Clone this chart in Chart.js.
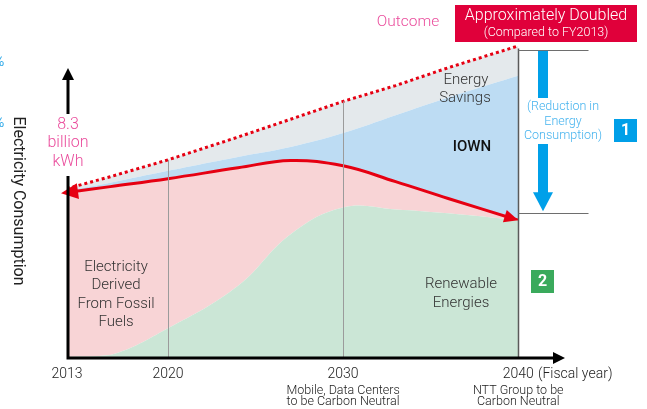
<!DOCTYPE html>
<html>
<head>
<meta charset="utf-8">
<script src="https://cdn.jsdelivr.net/npm/chart.js@4.4.1/dist/chart.umd.min.js"></script>
<style>
  html, body { margin: 0; padding: 0; background: #fff; }
  canvas { display: block; }
</style>
</head>
<body>
<canvas id="chart" width="647" height="409"></canvas>
<script>
// Fiscal years sampled along the curves
const years = [2013, 2016, 2020, 2024, 2027, 2030, 2033, 2036, 2040];

// Electricity consumption in billion kWh
const renewable = [0, 0.1, 1.45, 3.6, 6.2, 7.55, 7.45, 7.25, 6.9];
const actual    = [8.3, 8.6, 9.0, 9.55, 9.92, 9.65, 8.85, 8.0, 6.9];
const withIown  = [8.4, 8.8, 9.4, 10.1, 10.6, 11.3, 12.2, 13.1, 14.2];
const baseline  = [8.5, 9.1, 9.95, 11.1, 12.0, 12.9, 13.7, 14.6, 15.7];

// Axis ticks and the notes under them
const tickYears = [2013, 2020, 2030, 2040];
const tickNotes = [[], [], ['Mobile, Data Centers', 'to be Carbon Neutral'], ['NTT Group to be', 'Carbon Neutral']];

// Range of the reduction bracket at FY2040
const bracket = [15.5, 7.25];

// The year axis is not uniform: 2013-2020 is squeezed
const xBreaks = [2013, 2020, 2042.5];
const xFrac = [0, 0.204, 1];

function yearToDecimal(v) {
  for (let i = 1; i < xBreaks.length; i++) {
    if (v <= xBreaks[i] || i === xBreaks.length - 1) {
      const t = (v - xBreaks[i - 1]) / (xBreaks[i] - xBreaks[i - 1]);
      return xFrac[i - 1] + t * (xFrac[i] - xFrac[i - 1]);
    }
  }
}

function decimalToYear(d) {
  for (let i = 1; i < xFrac.length; i++) {
    if (d <= xFrac[i] || i === xFrac.length - 1) {
      const t = (d - xFrac[i - 1]) / (xFrac[i] - xFrac[i - 1]);
      return xBreaks[i - 1] + t * (xBreaks[i] - xBreaks[i - 1]);
    }
  }
}

class FiscalScale extends Chart.LinearScale {
  getPixelForValue(value) {
    if (value === null || value === undefined) return NaN;
    return this.getPixelForDecimal(yearToDecimal(value));
  }
  getValueForPixel(pixel) {
    return decimalToYear(this.getDecimalForPixel(pixel));
  }
}
FiscalScale.id = 'fiscal';
FiscalScale.defaults = Chart.LinearScale.defaults;
Chart.register(FiscalScale);

const pts = arr => years.map((yr, i) => ({ x: yr, y: arr[i] }));

const FONT = 'Roboto, "Noto Sans", sans-serif';

function label(ctx, str, x, y, size, color, weight, align) {
  ctx.font = (weight || 300) + ' ' + size + 'px ' + FONT;
  ctx.fillStyle = color;
  ctx.textAlign = align || 'center';
  ctx.textBaseline = 'middle';
  ctx.fillText(str, x, y);
}

function arrowHead(ctx, tx, ty, angle, len, half, color) {
  ctx.save();
  ctx.translate(tx, ty);
  ctx.rotate(angle);
  ctx.beginPath();
  ctx.moveTo(0, 0);
  ctx.lineTo(-len, -half);
  ctx.lineTo(-len, half);
  ctx.closePath();
  ctx.fillStyle = color;
  ctx.fill();
  ctx.restore();
}

const overlay = {
  id: 'overlay',
  afterDatasetsDraw(chart) {
    const ctx = chart.ctx;
    const a = chart.chartArea;
    const ys = chart.scales.y;
    const xs = chart.scales.x;
    const top = chart.getDatasetMeta(3).data;

    ctx.save();
    // thin guides at 2020 and 2030 up to the dotted line
    ctx.strokeStyle = '#9b9b9b';
    ctx.lineWidth = 1;
    [2020, 2030].forEach(yr => {
      const p = top[years.indexOf(yr)];
      const px = Math.round(p.x) + 0.5;
      ctx.beginPath();
      ctx.moveTo(px, a.bottom);
      ctx.lineTo(px, p.y);
      ctx.stroke();
    });

    // 2040 line and the bracket
    const x40 = Math.round(xs.getPixelForValue(2040)) + 0.5;
    const bTop = Math.round(ys.getPixelForValue(bracket[0])) + 0.5;
    const bBot = Math.round(ys.getPixelForValue(bracket[1])) + 0.5;
    ctx.strokeStyle = '#5a5a5a';
    ctx.lineWidth = 1.5;
    ctx.beginPath();
    ctx.moveTo(x40, a.bottom);
    ctx.lineTo(x40, bTop - 2);
    ctx.stroke();
    ctx.strokeStyle = '#6e6e6e';
    ctx.lineWidth = 1.2;
    ctx.beginPath();
    ctx.moveTo(x40, bTop); ctx.lineTo(x40 + 70, bTop);
    ctx.moveTo(x40, bBot); ctx.lineTo(x40 + 70, bBot);
    ctx.stroke();

    // arrow heads on the red line
    const red = chart.getDatasetMeta(1).data;
    const p0 = red[0], p1 = red[1];
    const c0x = p0.cp2x !== undefined ? p0.cp2x : p1.x;
    const c0y = p0.cp2y !== undefined ? p0.cp2y : p1.y;
    const angL = Math.atan2(p0.y - c0y, p0.x - c0x);
    arrowHead(ctx, p0.x + 6 * Math.cos(angL), p0.y + 6 * Math.sin(angL), angL, 17, 8, '#e60012');
    const pn = red[red.length - 1], pm = red[red.length - 2];
    const cnx = pn.cp1x !== undefined ? pn.cp1x : pm.x;
    const cny = pn.cp1y !== undefined ? pn.cp1y : pm.y;
    const angR = Math.atan2(pn.y - cny, pn.x - cnx);
    arrowHead(ctx, pn.x, pn.y, angR, 14, 6.5, '#e60012');
    ctx.restore();
  },
  afterDraw(chart) {
    const ctx = chart.ctx;
    const a = chart.chartArea;
    const xs = chart.scales.x;
    const ys = chart.scales.y;
    ctx.save();

    // axes with arrow heads
    const ax = a.left + 1;
    ctx.strokeStyle = '#000';
    ctx.lineWidth = 3;
    ctx.beginPath();
    ctx.moveTo(ax, a.bottom + 1.5);
    ctx.lineTo(ax, 78);
    ctx.moveTo(a.left - 0.5, a.bottom + 1);
    ctx.lineTo(a.right - 8, a.bottom + 1);
    ctx.stroke();
    arrowHead(ctx, ax, 68, -Math.PI / 2, 12, 6, '#000');
    arrowHead(ctx, a.right + 3, a.bottom + 1, 0, 12, 6, '#000');

    // 8.3 billion kWh breaks the y axis
    ctx.fillStyle = '#fff';
    ctx.fillRect(44, 114, 50, 62);
    label(ctx, '8.3', ax, 125, 16, '#ea4c9c');
    label(ctx, 'billion', ax, 143, 16, '#ea4c9c');
    label(ctx, 'kWh', ax, 162, 16, '#ea4c9c');

    // cropped fragments at the left edge
    label(ctx, '%', -6, 62, 14, '#2aa7e8', 400, 'left');
    label(ctx, '%', -6, 123, 14, '#2aa7e8', 400, 'left');

    // y title
    ctx.save();
    ctx.translate(18, 201);
    ctx.rotate(Math.PI / 2);
    label(ctx, 'Electricity Consumption', 0, 0, 16, '#222', 400);
    ctx.restore();

    // x ticks and notes
    tickYears.forEach((yr, i) => {
      const px = xs.getPixelForValue(yr);
      label(ctx, String(yr), px, 374, 14, '#222');
      tickNotes[i].forEach((t, j) => label(ctx, t, px, 391 + j * 11, 12.5, '#222', 300));
    });
    label(ctx, '(Fiscal year)', 538, 374, 14, '#222', 300, 'left');

    // area labels
    label(ctx, 'Energy', 466, 80, 15, '#333');
    label(ctx, 'Savings', 465, 98, 15, '#333');
    label(ctx, 'IOWN', 472, 147, 15, '#111', 500);
    ['Electricity', 'Derived', 'From Fossil', 'Fuels'].forEach((t, i) => label(ctx, t, 116, 267 + i * 18.5, 15, '#333'));
    label(ctx, 'Renewable', 461, 284, 15, '#333');
    label(ctx, 'Energies', 461, 303, 15, '#333');

    // outcome box
    label(ctx, 'Outcome', 408, 22, 15.5, '#ea4c9c');
    ctx.fillStyle = '#e0003a';
    ctx.fillRect(455, 5, 182, 37);
    label(ctx, 'Approximately Doubled', 546, 16, 16, '#fff');
    label(ctx, '(Compared to FY2013)', 546, 33, 12.5, '#fff');

    // reduction arrow
    const bTop = ys.getPixelForValue(bracket[0]);
    const bBot = ys.getPixelForValue(bracket[1]);
    ctx.fillStyle = '#00a0e9';
    ctx.fillRect(538, bTop + 1, 10, 97 - bTop);
    ctx.fillRect(538, 144, 10, bBot - 20 - 144);
    arrowHead(ctx, 543, bBot - 2, Math.PI / 2, 19, 10, '#00a0e9');
    label(ctx, '(Reduction in', 563, 107, 12.5, '#45b3ee');
    label(ctx, 'Energy', 563, 122, 12.5, '#45b3ee');
    label(ctx, 'Consumption)', 563, 136, 12.5, '#45b3ee');

    // numbered squares
    ctx.fillStyle = '#009fe8';
    ctx.fillRect(614, 119, 23, 23);
    label(ctx, '1', 625.5, 131, 16, '#fff', 700);
    ctx.fillStyle = '#3aaa5c';
    ctx.fillRect(531, 270, 23, 23);
    label(ctx, '2', 542.5, 282, 16, '#fff', 700);
    ctx.restore();
  }
};

new Chart(document.getElementById('chart'), {
  type: 'line',
  data: {
    datasets: [
      {
        label: 'Renewable Energies',
        data: pts(renewable),
        borderWidth: 0,
        borderColor: 'rgba(0,0,0,0)',
        backgroundColor: '#cbe6d6',
        fill: 'origin',
        tension: 0.4
      },
      {
        label: 'Electricity Derived From Fossil Fuels',
        data: pts(actual),
        borderWidth: 3,
        borderColor: '#e60012',
        backgroundColor: '#f8d4d6',
        fill: '-1',
        tension: 0.4
      },
      {
        label: 'IOWN',
        data: pts(withIown),
        borderWidth: 0,
        borderColor: 'rgba(0,0,0,0)',
        backgroundColor: '#bddcf3',
        fill: '-1',
        tension: 0.4
      },
      {
        label: 'Energy Savings',
        data: pts(baseline),
        borderWidth: 3,
        borderColor: '#e60012',
        borderDash: [3, 3],
        backgroundColor: '#e4e9ec',
        fill: '-1',
        tension: 0
      }
    ]
  },
  options: {
    responsive: false,
    animation: false,
    layout: { padding: { left: 67, right: 85, top: 40, bottom: 52 } },
    elements: { point: { radius: 0 } },
    plugins: { legend: { display: false }, tooltip: { enabled: false } },
    scales: {
      x: { type: 'fiscal', min: 2013, max: 2042.5, display: false },
      y: { type: 'linear', min: 0, max: 16, display: false }
    }
  },
  plugins: [overlay]
});
</script>
</body>
</html>
